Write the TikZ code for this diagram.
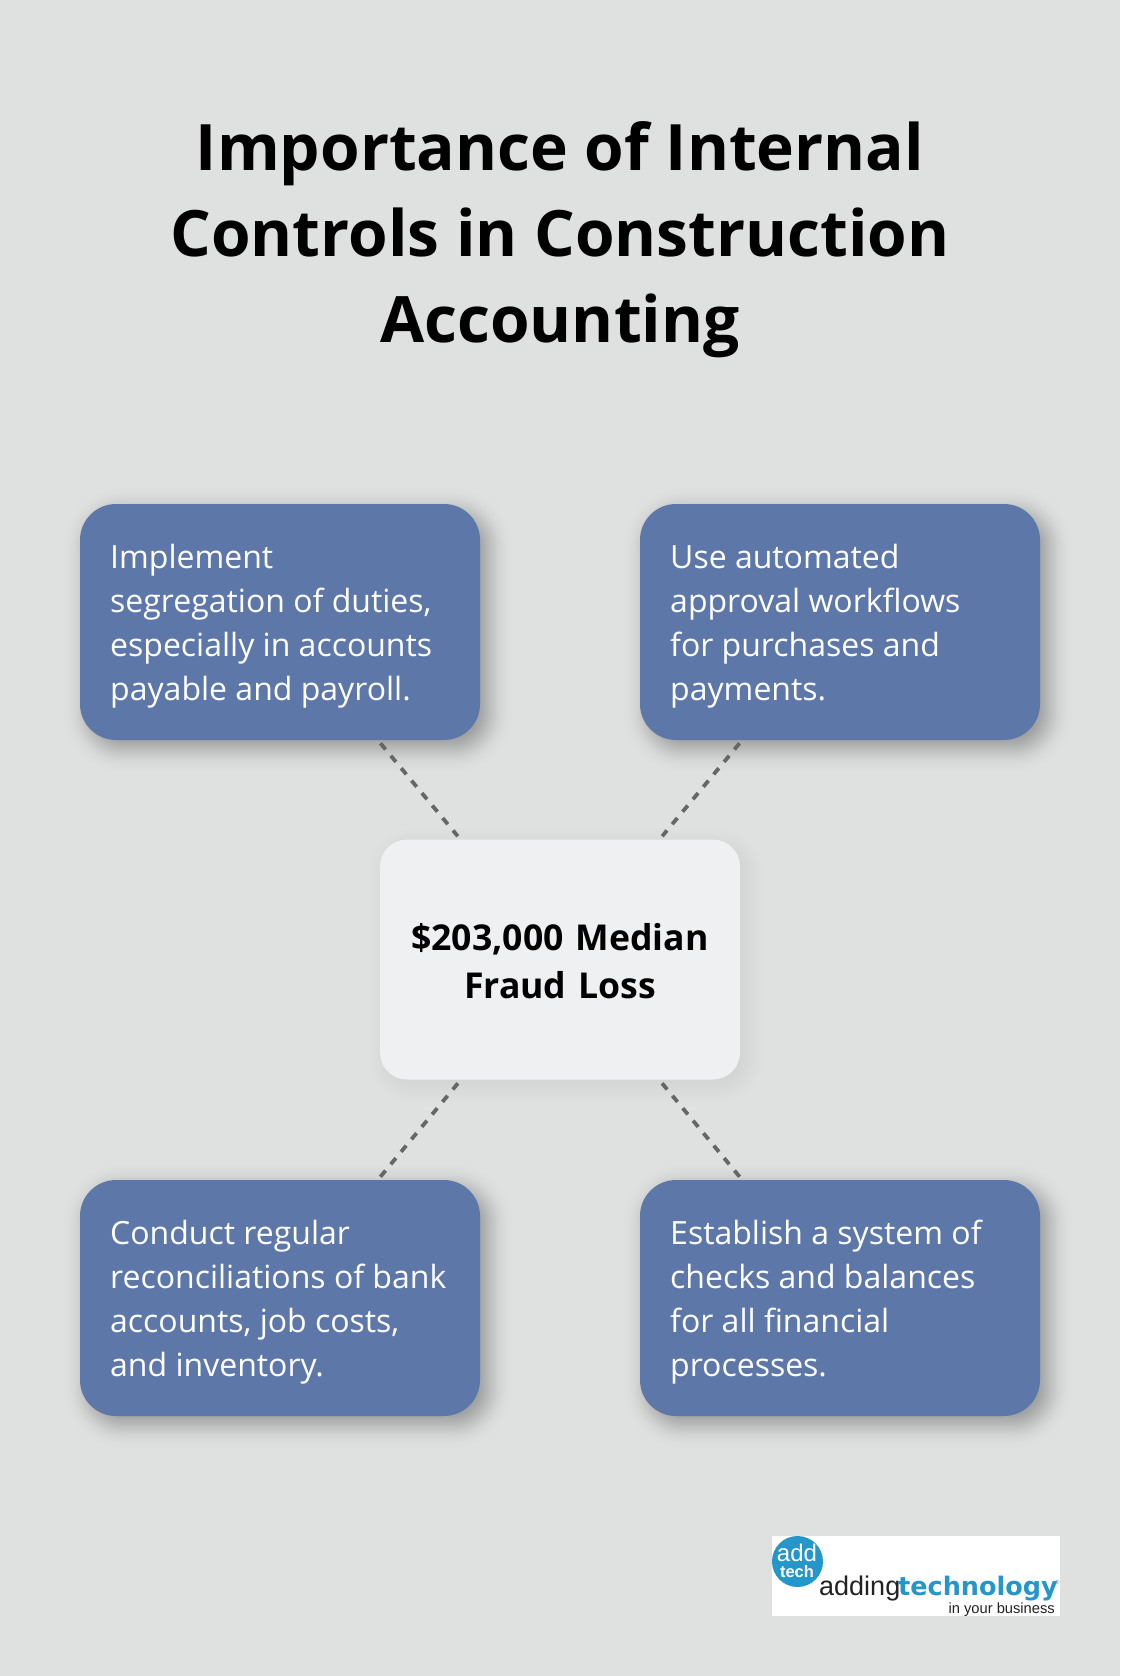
\documentclass[tikz,border=0pt]{standalone}
\usepackage{fontspec}
\setmainfont{Open Sans}
\newfontfamily\logofont{Liberation Sans}
\newfontfamily\logobold{DejaVu Sans}
\definecolor{pagebg}{HTML}{DFE1E0}
\definecolor{boxblue}{HTML}{5E77A9}
\definecolor{centerfill}{HTML}{EFF0F2}
\definecolor{dashgray}{HTML}{666666}
\definecolor{logoblue}{HTML}{2596C9}
\definecolor{logodark}{HTML}{222222}
% args: x0 y0 x1 y1 radius offset sigma amplitude
\newcommand{\softshadow}[8]{%
  \pgfmathsetmacro{\gtop}{2.4*#7}%
  \pgfmathsetmacro{\gnext}{\gtop-2}%
  \pgfmathsetmacro{\gend}{-2.4*#7}%
  \foreach \g in {\gtop,\gnext,...,\gend}{
    \pgfmathsetmacro{\lop}{#8*2/(#7*2.5066)*exp(-\g*\g/(2*#7*#7))}
    \pgfmathsetmacro{\lrad}{max(#5+\g,2)}
    \fill[black,fill opacity=\lop,rounded corners=\lrad pt]
      (#1+#6-\g,#2+#6-\g) rectangle (#3+#6+\g,#4+#6+\g);
  }}
\tikzset{
  x=1pt,y=-1pt,
  bluebox/.style={rectangle,rounded corners=36pt,fill=boxblue,
    minimum width=400pt,minimum height=236pt,inner sep=0pt},
  bluetext/.style={text=white,inner sep=0pt,text width=345pt,align=left,
    font=\fontsize{32}{44}\selectfont,
    execute at begin node={\spaceskip=8.3pt\relax}},
  centerbox/.style={rectangle,rounded corners=27pt,fill=centerfill,
    minimum width=360pt,minimum height=240pt,inner sep=0pt},
  centertext/.style={text=black,inner sep=0pt,text width=340pt,align=center,
    font=\fontsize{35.6}{48}\selectfont\bfseries},
  titletext/.style={text=black,align=center,inner sep=0pt,font=\fontsize{64}{86}\selectfont\bfseries},
  conn/.style={draw=dashgray,line width=3.8pt,dash pattern=on 8pt off 8.2pt,shorten <=4pt,shorten >=4pt},
}
\begin{document}
\begin{tikzpicture}
\useasboundingbox (0,0) rectangle (1120,1676);
\fill[pagebg] (0,0) rectangle (1120,1676);
\node[titletext] (title) at (560,240) {Importance of Internal\\Controls in Construction\\Accounting};
\softshadow{80}{504}{480}{740}{36}{8}{11}{0.34}
\softshadow{640}{504}{1040}{740}{36}{8}{11}{0.34}
\softshadow{80}{1180}{480}{1416}{36}{8}{11}{0.34}
\softshadow{640}{1180}{1040}{1416}{36}{8}{11}{0.34}
\softshadow{380}{840}{740}{1079}{27}{6}{12}{0.08}
\node[bluebox] (tl) at (280,622) {};
\node[bluebox] (tr) at (840,622) {};
\node[bluebox] (bl) at (280,1298) {};
\node[bluebox] (br) at (840,1298) {};
\node[centerbox] (mid) at (560,959.5) {};
\node[bluetext,anchor=west] (tltext) at (110,626) {Implement\\segregation of duties,\\especially in accounts\\payable and payroll.};
\node[bluetext,anchor=west] (trtext) at (670,626) {Use automated\\approval workflows\\for purchases and\\payments.};
\node[bluetext,anchor=west] (bltext) at (110,1302) {Conduct regular\\reconciliations of bank\\accounts, job costs,\\and inventory.};
\node[bluetext,anchor=west] (brtext) at (670,1302) {Establish a system of\\checks and balances\\for all financial\\processes.};
\node[centertext] (midtext) at (560,961) {\$203,000 Median\\Fraud Loss};
\draw[conn] (tl) -- (mid);
\draw[conn] (tr) -- (mid);
\draw[conn] (bl) -- (mid);
\draw[conn] (br) -- (mid);
\node[rectangle,fill=white,minimum width=288pt,minimum height=80pt,inner sep=0pt] (logo) at (916,1576) {};
\node[circle,fill=logoblue,minimum size=51pt,inner sep=0pt] (badge) at (797.5,1561.5) {};
\node[anchor=base,text=white,inner sep=0pt,font=\logofont\fontsize{24}{24}\selectfont] (addw) at (797,1561) {add};
\node[anchor=base,text=white,inner sep=0pt,font=\logofont\fontsize{16.5}{16}\selectfont\bfseries] (techw) at (797,1577) {tech};
\node[anchor=base west,inner sep=0pt,text=logodark,font=\logofont\fontsize{27}{27}\selectfont] (lname) at (819,1595) {adding};
\node[anchor=base west,inner sep=0pt,text=logoblue,font=\logobold\fontsize{25.5}{27}\selectfont\bfseries] (ltech) at (898,1595) {technology};
\node[anchor=base west,inner sep=0pt,text=gray,font=\logofont\fontsize{6}{6}\selectfont] (lreg) at (1055,1584) {®};
\node[anchor=base east,inner sep=0pt,text=logodark,font=\logofont\fontsize{14.7}{14}\selectfont] (ltag) at (1055,1613) {in your business};
\end{tikzpicture}
\end{document}
